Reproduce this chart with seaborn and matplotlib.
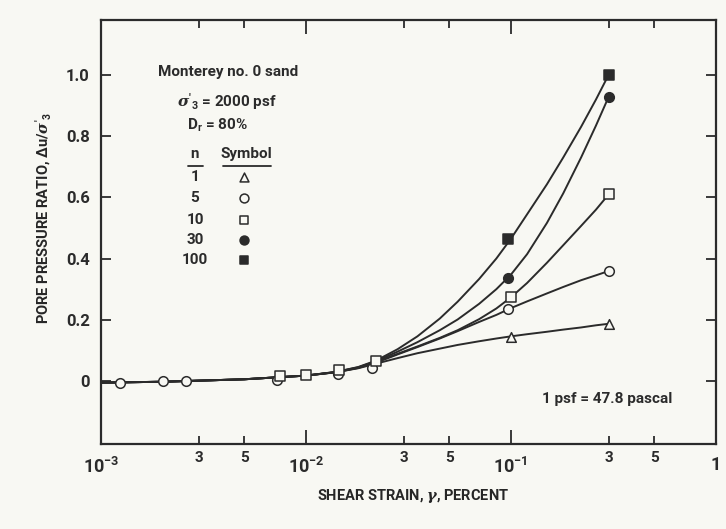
import numpy as np
import pandas as pd
import matplotlib
matplotlib.use("Agg")
import matplotlib.pyplot as plt
from matplotlib.ticker import FixedLocator, FixedFormatter
from matplotlib.lines import Line2D
import seaborn as sns

# ---- data -----------------------------------------------------------------
cycles = [1, 5, 10, 30, 100]

# fitted curves (shear strain in percent, pore pressure ratio)
curve_strain = [0.001, 0.002, 0.005, 0.01, 0.014, 0.018, 0.022, 0.028, 0.035,
                0.045, 0.055, 0.07, 0.085, 0.1, 0.12, 0.15, 0.18, 0.22, 0.26, 0.3]
curve_n1 = [-0.004, -0.001, 0.007, 0.019, 0.030, 0.043, 0.058, 0.076, 0.092,
            0.107, 0.119, 0.131, 0.140, 0.147, 0.154, 0.162, 0.169, 0.176, 0.183, 0.188]
curve_n5 = [-0.004, -0.001, 0.007, 0.019, 0.030, 0.044, 0.061, 0.088, 0.112,
            0.140, 0.164, 0.194, 0.217, 0.239, 0.261, 0.287, 0.308, 0.330, 0.346, 0.360]
curve_n10 = [-0.004, -0.001, 0.007, 0.019, 0.030, 0.045, 0.064, 0.090, 0.114,
             0.142, 0.167, 0.203, 0.238, 0.274, 0.321, 0.387, 0.444, 0.507, 0.560, 0.610]
curve_n30 = [-0.004, -0.001, 0.007, 0.019, 0.031, 0.046, 0.066, 0.097, 0.128,
             0.167, 0.202, 0.253, 0.301, 0.348, 0.415, 0.517, 0.613, 0.730, 0.834, 0.928]
curve_n100 = [-0.004, -0.001, 0.007, 0.019, 0.031, 0.047, 0.068, 0.105, 0.147,
              0.205, 0.260, 0.334, 0.401, 0.465, 0.545, 0.643, 0.730, 0.830, 0.919, 1.000]

# measured points
pts_n1_x = [0.1, 0.3]
pts_n1_y = [0.145, 0.188]
pts_n5_x = [0.00124, 0.002, 0.0026, 0.0072, 0.0143, 0.021, 0.097, 0.3]
pts_n5_y = [-0.005, 0.0, 0.003, 0.004, 0.025, 0.044, 0.237, 0.360]
pts_n10_x = [0.0075, 0.01, 0.0145, 0.022, 0.1, 0.3]
pts_n10_y = [0.018, 0.021, 0.036, 0.066, 0.275, 0.610]
pts_n30_x = [0.097, 0.3]
pts_n30_y = [0.338, 0.928]
pts_n100_x = [0.097, 0.3]
pts_n100_y = [0.465, 1.000]

x_major = [1e-3, 1e-2, 1e-1, 1.0]
x_major_labels = [r"$\mathbf{10^{-3}}$", r"$\mathbf{10^{-2}}$", r"$\mathbf{10^{-1}}$", "1"]
x_minor = [3e-3, 5e-3, 3e-2, 5e-2, 3e-1, 5e-1]
x_minor_labels = ["3", "5", "3", "5", "3", "5"]
y_ticks = [0, 0.2, 0.4, 0.6, 0.8, 1.0]
y_tick_labels = ["0", "0.2", "0.4", "0.6", "0.8", "1.0"]

# ---- style ----------------------------------------------------------------
INK = "#2b2b2b"
PAPER = "#f8f8f3"
sns.set_theme(style="ticks")
FONT = ["Roboto", "DejaVu Sans"]
plt.rcParams["font.family"] = FONT
plt.rcParams["font.weight"] = "bold"
plt.rcParams["mathtext.fontset"] = "custom"
plt.rcParams["mathtext.rm"] = "Roboto:bold"
plt.rcParams["mathtext.bf"] = "Roboto:bold"
plt.rcParams["mathtext.it"] = "DejaVu Serif:italic"
plt.rcParams["text.color"] = INK

fig = plt.figure(figsize=(7.26, 5.29), dpi=100, facecolor=PAPER)
ax = fig.add_axes([0.139, 0.1607, 0.847, 0.8023])
ax.set_facecolor(PAPER)

curves = {1: curve_n1, 5: curve_n5, 10: curve_n10, 30: curve_n30, 100: curve_n100}
for n in cycles:
    sns.lineplot(x=curve_strain, y=curves[n], ax=ax, color=INK, lw=1.4,
                 sort=False, estimator=None, legend=False)

marker_style = {
    1: dict(marker="^", facecolor=PAPER, s=48),
    5: dict(marker="o", facecolor=PAPER, s=48),
    10: dict(marker="s", facecolor=PAPER, s=46),
    30: dict(marker="o", facecolor=INK, s=48),
    100: dict(marker="s", facecolor=INK, s=46),
}
points = {1: (pts_n1_x, pts_n1_y), 5: (pts_n5_x, pts_n5_y), 10: (pts_n10_x, pts_n10_y),
          30: (pts_n30_x, pts_n30_y), 100: (pts_n100_x, pts_n100_y)}
for n in cycles:
    px, py = points[n]
    st = marker_style[n]
    sns.scatterplot(x=px, y=py, ax=ax, marker=st["marker"], s=st["s"],
                    facecolor=st["facecolor"], edgecolor=INK, linewidth=1.1,
                    zorder=5, legend=False)

ax.set_xscale("log")
ax.set_xlim(1e-3, 1.0)
ax.set_ylim(-0.204, 1.18)

ax.xaxis.set_major_locator(FixedLocator(x_major))
ax.xaxis.set_major_formatter(FixedFormatter(x_major_labels))
ax.xaxis.set_minor_locator(FixedLocator(x_minor))
ax.xaxis.set_minor_formatter(FixedFormatter(x_minor_labels))
ax.set_yticks(y_ticks)
ax.set_yticklabels(y_tick_labels)

ax.tick_params(axis="x", which="major", direction="in", length=10, width=1.3,
               top=True, pad=9, labelsize=13, colors=INK)
ax.tick_params(axis="x", which="minor", direction="in", length=6, width=1.3,
               top=True, pad=5, labelsize=11, colors=INK)
ax.tick_params(axis="y", which="major", direction="in", length=7, width=1.3,
               right=True, pad=8, labelsize=12, colors=INK)
for sp in ax.spines.values():
    sp.set_linewidth(1.6)
    sp.set_color(INK)

ax.set_xlabel(r"SHEAR STRAIN, $\gamma$, PERCENT", fontsize=10.5, fontweight="bold")
ax.xaxis.set_label_coords(0.508, -0.102)
ax.set_ylabel(r"PORE PRESSURE RATIO, $\Delta$u/$\sigma'_3$", fontsize=10.5,
              fontweight="bold")
ax.yaxis.set_label_coords(-0.078, 0.532)

# annotation block
tx = dict(transform=ax.transAxes, ha="center", va="center", fontsize=11,
          fontweight="bold", color=INK)
ax.text(0.2065, 0.876, "Monterey no. 0 sand", **tx)
ax.text(0.205, 0.806, r"$\sigma'_3$ = 2000 psf", **tx)
ax.text(0.189, 0.751, r"D$_\mathbf{r}$ = 80%", **tx)
ax.text(0.153, 0.684, "n", **tx)
ax.text(0.237, 0.684, "Symbol", **tx)
for x0, x1 in [(0.1415, 0.166), (0.198, 0.276)]:
    ax.add_line(Line2D([x0, x1], [0.655, 0.655], transform=ax.transAxes,
                       color=INK, lw=1.3))
row_y = [0.629, 0.5795, 0.528, 0.4806, 0.4334]
for n, yy in zip(cycles, row_y):
    ax.text(0.153, yy, str(n), **tx)
    st = marker_style[n]
    ax.scatter([0.2325], [yy], transform=ax.transAxes, marker=st["marker"],
               s=st["s"] * 0.85, facecolor=st["facecolor"], edgecolor=INK,
               linewidth=1.1, zorder=5, clip_on=False)

ax.text(0.824, 0.106, "1 psf = 47.8 pascal", **tx)

fig.savefig("out.png", dpi=100, facecolor=PAPER)
